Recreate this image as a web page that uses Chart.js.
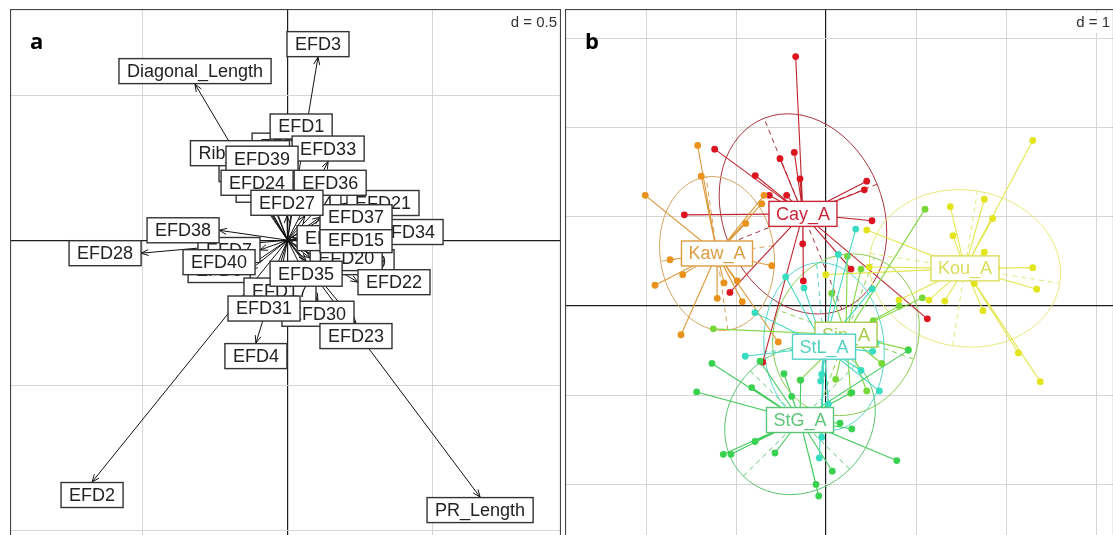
<!DOCTYPE html>
<html>
<head>
<meta charset="utf-8">
<script src="https://cdn.jsdelivr.net/npm/chart.js@4.4.1/dist/chart.umd.min.js"></script>
<style>
  html, body { margin: 0; padding: 0; background: #fff; overflow: hidden; width: 1113px; height: 535px; }
  canvas { position: absolute; }
  #panelA { left: 10px; top: 9px; }
  #panelB { left: 565px; top: 9px; }
</style>
</head>
<body>
<canvas id="panelA" width="551" height="540"></canvas>
<canvas id="panelB" width="549" height="540"></canvas>
<script>
// ---- panel a : variable arrows (tips, in axis units) ----
const varNames = ['EFD19', 'EFD20', 'EFD34', 'EFD21', 'EFD14', 'EFD18', 'EFD15', 'EFD37', 'EFD12', 'EFD1',
  'EFD29', 'EFD26', 'Rib_Width', 'EFD33', 'EFD39', 'EFD24', 'EFD36', 'EFD27', 'EFD7', 'EFD6',
  'EFD40', 'EFD38', 'EFD28', 'EFD17', 'EFD30', 'EFD31', 'EFD35', 'EFD22', 'EFD23', 'EFD4',
  'EFD2', 'PR_Length', 'Diagonal_Length', 'EFD3'];
const varX = [0.119, 0.078, 0.288, 0.205, 0.060, 0.033, 0.112, 0.112, 0.002, 0.047,
  -0.053, -0.112, -0.164, 0.140, -0.088, -0.105, 0.147, -0.002, -0.095, -0.129,
  -0.112, -0.236, -0.505, -0.026, 0.105, -0.081, 0.064, 0.243, 0.236, -0.109,
  -0.674, 0.664, -0.319, 0.105];
const varY = [-0.076, -0.062, 0.028, 0.128, 0.084, 0.007, 0.000, 0.079, 0.281, 0.347,
  0.129, 0.200, 0.255, 0.271, 0.236, 0.153, 0.153, 0.084, -0.034, -0.103,
  -0.076, 0.034, -0.045, -0.129, -0.209, -0.191, -0.071, -0.145, -0.286, -0.355,
  -0.834, -0.886, 0.538, 0.631];
const gridAx = [-0.5, 0, 0.5];
const gridAy = [-1, -0.5, 0, 0.5];

// ---- panel b : groups ----
const groupNames = ['Cay_A', 'Kaw_A', 'Kou_A', 'Sin_A', 'StG_A', 'StL_A'];
const groupColors = ['#dc1420', '#e8921c', '#e2e41c', '#78d83a', '#38d250', '#38dcc0'];
const lineColors = ['#c0242f', '#dc9a3a', '#e4e650', '#84d644', '#46cc5e', '#46d8c2'];
const ellipseColors = ['#a8343f', '#d6a25e', '#e6e87a', '#88cc50', '#5ac470', '#5ad6c8'];
const labelColors = ['#c8283a', '#dc9c42', '#dcdc5a', '#a6cc48', '#5cc478', '#52d2c2'];
const centerX = [-0.256, -1.211, 1.544, 0.222, -0.289, -0.022];
const centerY = [1.033, 0.589, 0.422, -0.322, -1.278, -0.456];
const ellipseA = [1.156, 0.867, 1.067, 0.92, 0.89, 0.944];
const ellipseB = [0.889, 0.633, 0.878, 0.80, 0.78, 0.667];
const ellipseAngle = [112, 98, -9, 70, 45, 95];

const cayX = [-0.337, -0.352, -0.511, -0.289, -0.786, -1.237, -0.437, -0.630, -1.574, 0.452, 0.426, 0.511, -0.259, -0.252, -1.067, 0.278, 1.126, -0.703];
const cayY = [2.797, 1.722, 1.652, 1.426, 1.463, 1.759, 1.241, 1.241, 1.022, 1.400, 1.303, 0.956, 0.697, 0.281, 0.152, 0.414, -0.144, -0.630];
const kawX = [-1.426, -1.386, -2.008, -0.689, -0.714, -0.892, -1.733, -1.592, -1.900, -1.133, -0.986, -1.208, -0.930, -0.603, -1.611, -0.530];
const kawY = [1.800, 1.456, 1.241, 1.241, 1.148, 0.926, 0.519, 0.352, 0.233, 0.259, 0.281, 0.086, 0.048, 0.452, -0.322, -0.403];
const kouX = [2.297, 1.759, 1.852, 1.381, 1.411, 1.759, 2.297, 2.341, 1.648, 1.744, 1.319, 1.144, 2.137, 2.381, 0.452, 0.481, 0.811, 1.897, -0.003];
const kouY = [1.856, 1.197, 0.981, 1.114, 0.789, 0.603, 0.430, 0.189, 0.252, -0.052, 0.056, 0.067, -0.526, -0.848, 0.852, 0.437, 0.067, 0.419, 0.352];
const sinX = [1.100, 1.070, 0.914, 0.814, 0.526, 0.389, 0.237, 0.063, -1.252, 0.619, 0.274, 0.108, -0.289, 0.452];
const sinY = [1.086, 0.092, -0.489, 0.000, -0.163, 0.414, 0.556, 0.141, -0.256, -0.644, -0.978, -0.822, -0.830, -0.952];
const stgX = [-1.267, -1.437, -0.826, -0.467, -0.381, 0.286, 0.156, 0.286, 0.786, 0.070, -0.111, -0.081, -0.567, -0.789, -1.056, -1.141, -0.733, 0.914, -0.281];
const stgY = [-0.644, -0.963, -0.914, -0.759, -1.014, -0.970, -1.314, -1.378, -1.733, -1.852, -2.000, -2.130, -1.648, -1.519, -1.663, -1.663, -0.619, -0.497, -0.830];
const stlX = [-0.448, -0.244, 0.137, 0.514, -0.789, -0.897, 0.556, 0.592, -0.048, -0.059, 0.026, -0.048, -0.074, 0.389, 0.330, 0.519];
const stlY = [0.326, 0.203, 0.578, 0.192, -0.074, -0.563, -0.414, -0.952, -0.767, -0.841, -1.100, -1.470, -1.703, -0.722, 0.863, -0.508];
const gridBx = [-2, -1, 0, 1, 2, 3];
const gridBy = [-2, -1, 0, 1, 2, 3];

const groupX = [cayX, kawX, kouX, sinX, stgX, stlX];
const groupY = [cayY, kawY, kouY, sinY, stgY, stlY];

const LABEL_FONT = '18px "Liberation Sans", Arial, sans-serif';

function axis(min, max, ticks) {
  return {
    type: 'linear', min, max,
    afterBuildTicks: s => { s.ticks = ticks.map(v => ({ value: v })); },
    ticks: { display: false },
    grid: {
      drawTicks: false,
      color: c => (c.tick && c.tick.value === 0 ? '#1c1c1c' : '#d6d6d6'),
      lineWidth: c => (c.tick && c.tick.value === 0 ? 1.2 : 1)
    },
    border: { display: false }
  };
}

function labelBox(ctx, text, cx, cy, w, edge, ink) {
  const h = 25;
  ctx.fillStyle = '#fff';
  ctx.fillRect(cx - w / 2, cy - h / 2, w, h);
  ctx.strokeStyle = edge;
  ctx.lineWidth = 1.4;
  ctx.strokeRect(cx - w / 2, cy - h / 2, w, h);
  ctx.fillStyle = ink;
  ctx.textAlign = 'center';
  ctx.textBaseline = 'middle';
  ctx.fillText(text, cx, cy + 1);
}

function frame(letter, dText) {
  return {
    id: 'frame' + letter,
    afterDraw(chart) {
      const { ctx, chartArea: a } = chart;
      ctx.save();
      ctx.font = '15px "Liberation Sans", Arial, sans-serif';
      const tw = ctx.measureText(dText).width;
      ctx.fillStyle = '#fff';
      ctx.fillRect(a.right - tw - 8, a.top + 4, tw + 6, 20);
      ctx.fillStyle = '#333';
      ctx.textAlign = 'right';
      ctx.textBaseline = 'middle';
      ctx.fillText(dText, a.right - 4, a.top + 14);
      ctx.font = 'bold 22px "Open Sans", "Liberation Sans", sans-serif';
      ctx.fillStyle = '#000';
      ctx.textAlign = 'left';
      ctx.textBaseline = 'alphabetic';
      ctx.fillText(letter, a.left + 20, a.top + 40);
      ctx.strokeStyle = '#444';
      ctx.lineWidth = 1.2;
      ctx.strokeRect(a.left + 0.5, a.top + 0.5, a.right - a.left - 1, a.bottom - a.top - 1);
      ctx.restore();
    }
  };
}

const arrowLabels = {
  id: 'arrowLabels',
  afterDatasetsDraw(chart) {
    const { ctx, scales: { x, y } } = chart;
    const ox = x.getPixelForValue(0), oy = y.getPixelForValue(0);
    ctx.save();
    ctx.strokeStyle = '#111';
    ctx.lineWidth = 1;
    varX.forEach((vx, i) => {
      const tx = x.getPixelForValue(vx), ty = y.getPixelForValue(varY[i]);
      const ang = Math.atan2(ty - oy, tx - ox);
      ctx.beginPath();
      for (const s of [-1, 1]) {
        ctx.moveTo(tx, ty);
        ctx.lineTo(tx - 8 * Math.cos(ang + s * 0.38), ty - 8 * Math.sin(ang + s * 0.38));
      }
      ctx.stroke();
    });
    ctx.font = LABEL_FONT;
    varNames.forEach((name, i) => {
      const tx = x.getPixelForValue(varX[i]), ty = y.getPixelForValue(varY[i]);
      const w = ctx.measureText(name).width + 16;
      let cx = tx, cy = ty;
      if (Math.abs(varY[i]) > Math.abs(varX[i])) cy = ty + (varY[i] > 0 ? -13 : 13);
      else cx = tx + (varX[i] > 0 ? w / 2 : -w / 2);
      labelBox(ctx, name, cx, cy, w, '#333', '#222');
    });
    ctx.restore();
  }
};

new Chart(document.getElementById('panelA'), {
  type: 'scatter',
  data: {
    datasets: varX.map((vx, i) => ({
      data: [{ x: 0, y: 0 }, { x: vx, y: varY[i] }],
      showLine: true,
      borderColor: '#111',
      borderWidth: 1,
      pointRadius: 0
    }))
  },
  options: {
    responsive: false,
    animation: false,
    events: [],
    layout: { padding: 0, autoPadding: false },
    plugins: { legend: { display: false }, tooltip: { enabled: false } },
    scales: { x: axis(-0.957, 0.943, gridAx), y: axis(-1.065, 0.797, gridAy) }
  },
  plugins: [arrowLabels, frame('a', 'd = 0.5')]
});

const ellipses = {
  id: 'ellipses',
  beforeDatasetsDraw(chart) {
    const { ctx, scales: { x, y } } = chart;
    const kx = x.getPixelForValue(1) - x.getPixelForValue(0);
    const ky = y.getPixelForValue(0) - y.getPixelForValue(1);
    ctx.save();
    groupNames.forEach((g, i) => {
      const t = ellipseAngle[i] * Math.PI / 180;
      ctx.strokeStyle = ellipseColors[i];
      ctx.lineWidth = 1;
      ctx.setLineDash([]);
      ctx.beginPath();
      ctx.save();
      ctx.translate(x.getPixelForValue(centerX[i]), y.getPixelForValue(centerY[i]));
      ctx.scale(1, ky / kx);
      ctx.ellipse(0, 0, ellipseA[i] * kx, ellipseB[i] * kx, -t, 0, 2 * Math.PI);
      ctx.restore();
      ctx.stroke();
      ctx.setLineDash([5, 4]);
      ctx.beginPath();
      [[ellipseA[i], t], [ellipseB[i], t + Math.PI / 2]].forEach(([r, a]) => {
        const dx = Math.cos(a) * r, dy = Math.sin(a) * r;
        ctx.moveTo(x.getPixelForValue(centerX[i] - dx), y.getPixelForValue(centerY[i] - dy));
        ctx.lineTo(x.getPixelForValue(centerX[i] + dx), y.getPixelForValue(centerY[i] + dy));
      });
      ctx.stroke();
    });
    ctx.restore();
  }
};

const groupLabels = {
  id: 'groupLabels',
  afterDatasetsDraw(chart) {
    const { ctx, scales: { x, y } } = chart;
    ctx.save();
    ctx.font = LABEL_FONT;
    groupNames.forEach((g, i) => {
      const w = ctx.measureText(g).width + 14;
      labelBox(ctx, g, x.getPixelForValue(centerX[i]), y.getPixelForValue(centerY[i]), w, labelColors[i], labelColors[i]);
    });
    ctx.restore();
  }
};

const groupSets = [];
groupNames.forEach((g, i) => {
  const star = [];
  groupX[i].forEach((px, j) => {
    star.push({ x: centerX[i], y: centerY[i] }, { x: px, y: groupY[i][j] });
  });
  groupSets.push({
    label: g + ' star', data: star, showLine: true, borderColor: lineColors[i],
    borderWidth: 1.1, pointRadius: 0
  });
  groupSets.push({
    label: g, data: groupX[i].map((px, j) => ({ x: px, y: groupY[i][j] })),
    pointRadius: 3.4, backgroundColor: groupColors[i], borderWidth: 0
  });
});
groupSets.forEach((d, i) => { d.order = groupSets.length - i; });

new Chart(document.getElementById('panelB'), {
  type: 'scatter',
  data: { datasets: groupSets },
  options: {
    responsive: false,
    animation: false,
    events: [],
    layout: { padding: 0, autoPadding: false },
    plugins: { legend: { display: false }, tooltip: { enabled: false } },
    scales: { x: axis(-2.9, 3.2, gridBx), y: axis(-2.724, 3.33, gridBy) }
  },
  plugins: [ellipses, groupLabels, frame('b', 'd = 1')]
});
</script>
</body>
</html>
